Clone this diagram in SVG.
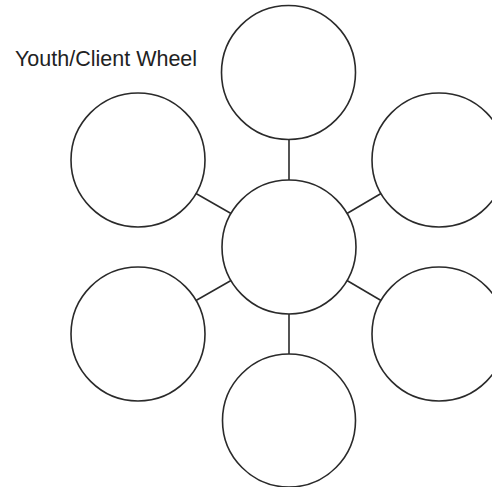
<svg xmlns="http://www.w3.org/2000/svg" width="492" height="487" viewBox="0 0 492 487">
<style>
.n{fill:#fff;stroke:#2a2a2a;stroke-width:1.6}
.c{stroke:#2a2a2a;stroke-width:1.6;fill:none}
.t{font-family:"Liberation Sans",Arial,sans-serif;font-size:21.5px;fill:#222}
</style>
<rect width="492" height="487" fill="#fff"/>
<text class="t" x="15" y="66">Youth/Client Wheel</text>
<g id="connectors">
<line class="c" x1="289" y1="139" x2="289" y2="180"/>
<line class="c" x1="289" y1="314" x2="289" y2="354"/>
<line class="c" x1="196" y1="193.5" x2="231" y2="213.5"/>
<line class="c" x1="347" y1="213.5" x2="381" y2="193.5"/>
<line class="c" x1="196" y1="300.5" x2="231" y2="280.5"/>
<line class="c" x1="347" y1="280.5" x2="381" y2="300.5"/>
</g>
<g id="center"><circle class="n" cx="289" cy="247" r="67"/></g>
<g id="top"><circle class="n" cx="288.5" cy="72.5" r="67"/></g>
<g id="bottom"><circle class="n" cx="289" cy="420.5" r="66.5"/></g>
<g id="upper-left"><circle class="n" cx="138" cy="160" r="67"/></g>
<g id="upper-right"><circle class="n" cx="439" cy="160" r="67"/></g>
<g id="lower-left"><circle class="n" cx="138" cy="334" r="67"/></g>
<g id="lower-right"><circle class="n" cx="439" cy="334" r="67"/></g>
</svg>
